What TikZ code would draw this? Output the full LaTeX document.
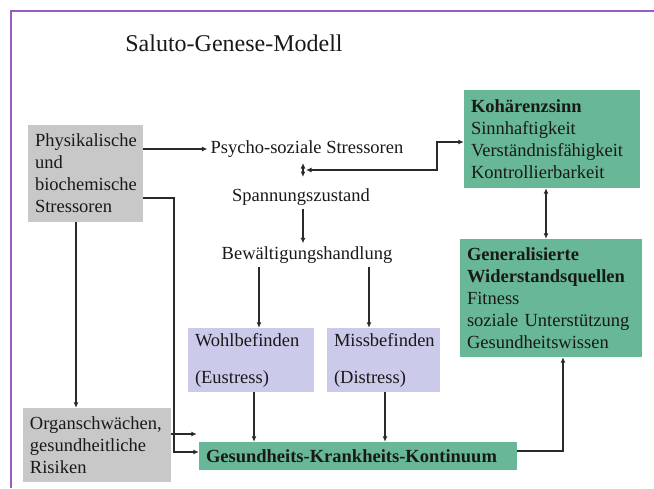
\documentclass[tikz,border=0pt]{standalone}
\usepackage{fontspec}
\setmainfont{Liberation Serif}
\usetikzlibrary{positioning,arrows.meta}

\definecolor{framepurple}{HTML}{9A5CC0}
\definecolor{boxgrey}{HTML}{C8C8C8}
\definecolor{boxgreen}{HTML}{68B897}
\definecolor{boxlila}{HTML}{CCCAEA}
\definecolor{linegrey}{HTML}{2A2A2A}

\begin{document}
\begin{tikzpicture}[
  x=1pt, y=-1pt,
  font=\fontsize{18.5}{22}\selectfont,
  box/.style={align=left, inner xsep=7pt, inner ysep=0pt, text=black!90},
  greybox/.style={box, fill=boxgrey},
  greenbox/.style={box, fill=boxgreen},
  lilabox/.style={box, fill=boxlila},
  plain/.style={inner sep=3pt, text=black!90},
  arrow/.style={-{Latex[length=5.5pt,width=5pt]}, line width=1.6pt, draw=linegrey},
  dblarrow/.style={arrow, {Latex[length=5.5pt,width=5pt]}-{Latex[length=5.5pt,width=5pt]}}
]
\useasboundingbox (0,0) rectangle (654,488);
\draw[framepurple, line width=1.5pt] (654,11) -- (11,11) -- (11,488);

\node[plain, font=\fontsize{24}{30}\selectfont] (title) at (234,43) {Saluto-Genese-Modell};

% left column
\node[greybox, minimum width=115pt, minimum height=97pt, text width=101pt] (phys) at (85.5,173.5) {Physikalische\\und\\biochemische\\Stressoren};
\node[greybox, minimum width=148pt, minimum height=74pt, text width=134pt] (organ) at (97,445) {Organschwächen,\\gesundheitliche\\Risiken};

% middle column
\node[plain] (psycho) at (307,149) {Psycho-soziale Stressoren};
\node[plain] (spannung) at (301,197) {Spannungszustand};
\node[plain] (bewaelt) at (307,255) {Bewältigungshandlung};
\node[lilabox, minimum width=126pt, minimum height=64pt, text width=112pt] (wohl) at (251,360) {Wohlbefinden\\[15pt](Eustress)};
\node[lilabox, minimum width=113pt, minimum height=64pt, text width=99pt] (miss) at (383.5,360) {Missbefinden\\[15pt](Distress)};
\node[greenbox, minimum width=318pt, minimum height=28pt, text width=304pt, font=\fontsize{18.5}{22}\selectfont\bfseries] (kont) at (358,456) {Gesundheits-Krankheits-Kontinuum};
\coordinate (mid) at (303,170);

% right column
\node[greenbox, minimum width=176pt, minimum height=98pt, text width=162pt] (kohaer) at (552,139) {\textbf{Kohärenzsinn}\\Sinnhaftigkeit\\Verständnisfähigkeit\\Kontrollierbarkeit};
\node[greenbox, minimum width=182pt, minimum height=118pt, text width=168pt] (general) at (551,298) {\textbf{Generalisierte}\\\textbf{Widerstandsquellen}\\Fitness\\soziale Unterstützung\\Gesundheitswissen};

\draw[arrow] (phys.east |- psycho.west) -- (psycho.west);
\draw[dblarrow] ([yshift=7pt]mid) -- ([yshift=-7pt]mid);
\draw[dblarrow] ([xshift=3pt]mid) -- ++(131,0) |- ([yshift=-3pt]kohaer.west);
\draw[arrow] (mid |- spannung.south) -- (mid |- bewaelt.north);
\draw[arrow] ([xshift=-48pt]bewaelt.south) -- ([xshift=-48pt]bewaelt.south |- wohl.north);
\draw[arrow] ([xshift=62pt]bewaelt.south) -- ([xshift=62pt]bewaelt.south |- miss.north);
\draw[dblarrow] ([xshift=-6pt]kohaer.south) -- ([xshift=-6pt]kohaer.south |- general.north);
\draw[arrow] ([xshift=3pt]wohl.south) -- ([xshift=3pt]wohl.south |- kont.north);
\draw[arrow] ([xshift=1.5pt]miss.south) -- ([xshift=1.5pt]miss.south |- kont.north);
\draw[arrow] ([xshift=-9.5pt]phys.south) -- ([xshift=-9.5pt]phys.south |- organ.north);
\draw[arrow] ([yshift=-24.5pt]phys.east) -- ++(31,0) |- ([yshift=4pt]kont.west);
\draw[arrow, shorten >=2pt] ([yshift=11pt]organ.east) -- ([yshift=11pt]organ.east -| kont.west);
\draw[arrow] ([yshift=5pt]kont.east) -| ([xshift=12pt]general.south);

\end{tikzpicture}
\end{document}
